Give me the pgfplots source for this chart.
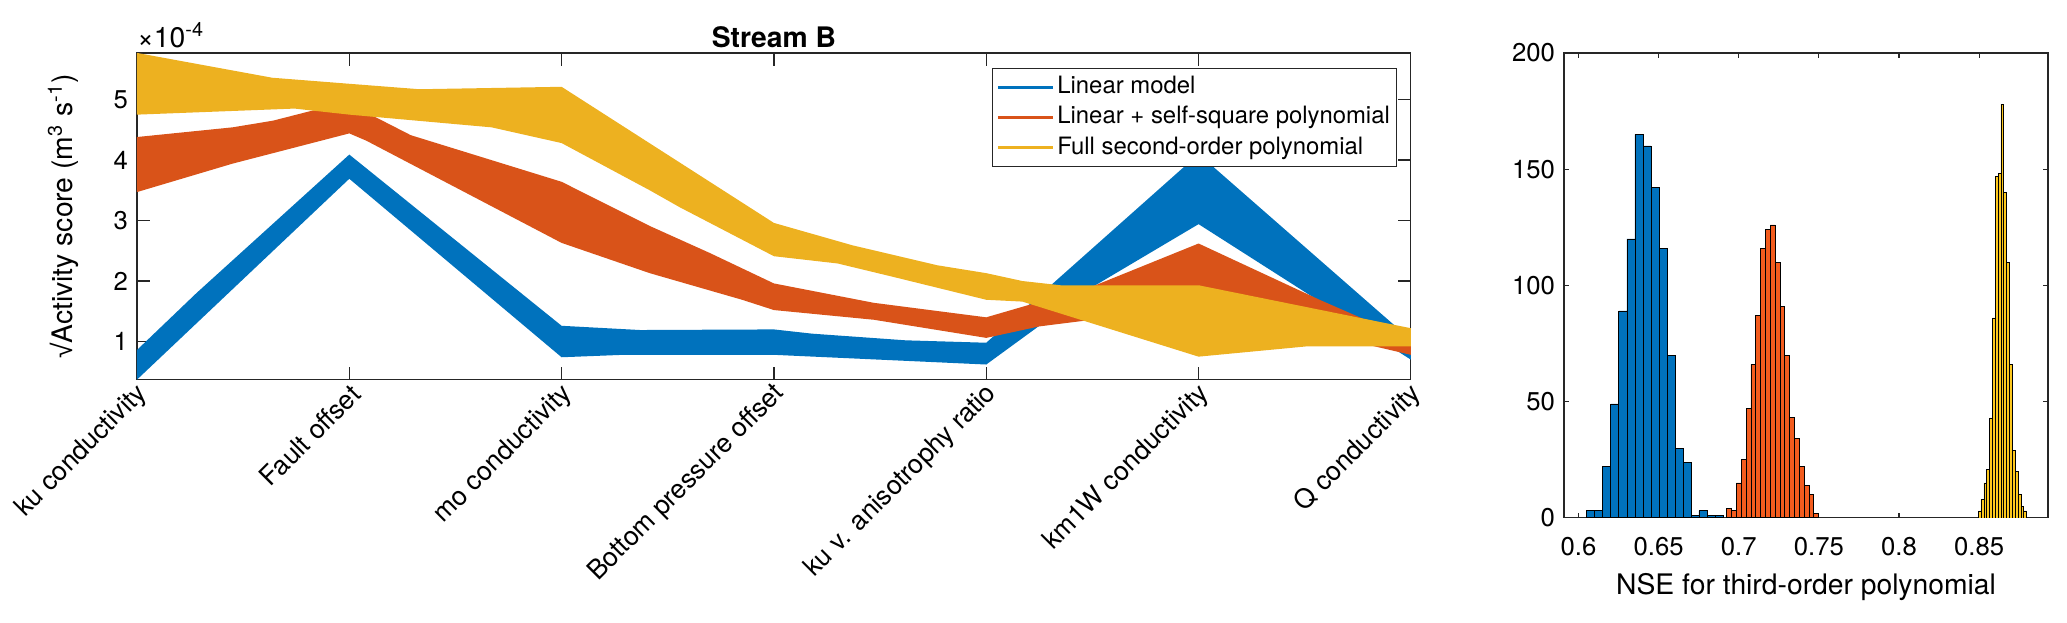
\documentclass[border=0pt]{standalone}
\usepackage{fontspec}
\setmainfont{TeX Gyre Heros}
\newfontfamily\libsans{Liberation Sans}
\usepackage{pgfplots}
\pgfplotsset{compat=1.18}
\definecolor{mblue}{RGB}{0,114,189}
\definecolor{morange}{RGB}{217,83,25}
\definecolor{myellow}{RGB}{237,177,32}
\definecolor{horange}{RGB}{243,92,30}
\definecolor{hyellow}{RGB}{253,200,30}
\definecolor{axgray}{RGB}{38,38,38}
\begin{document}
\begin{tikzpicture}
\useasboundingbox (0,0) rectangle (804.3pt,242.4pt);
\begin{axis}[
  at={(53.3pt,94.6pt)}, anchor=south west,
  scale only axis, width=495.7pt, height=127.2pt,
  xmin=0, xmax=6, ymin=0.367, ymax=5.77,
  xtick={0,1,2,3,4,5,6},
  xticklabels={ku conductivity, Fault offset, mo conductivity, Bottom pressure offset, ku v. anisotrophy ratio, km1W conductivity, Q conductivity},
  ytick={1,2,3,4,5},
  tick align=inside, tick pos=both,
  major tick length=4.9pt,
  axis line style={axgray, line width=0.45pt},
  every tick/.style={axgray, line width=0.45pt},
  tick label style={font=\fontsize{10}{12}\selectfont, text=black},
  xticklabel style={rotate=45, anchor=east, yshift=-4.5pt, xshift=2.5pt, font=\fontsize{10.3}{12}\selectfont},
  /pgf/number format/assume math mode=true,
  title={Stream B},
  every axis title/.style={font=\bfseries\fontsize{11}{13}\selectfont, at={(axis description cs:0.5,1)}, anchor=south, yshift=-1.5pt},
  ylabel={{\libsans √}Activity score (m\textsuperscript{3} s\textsuperscript{-1})},
  every axis y label/.style={font=\fontsize{11}{13}\selectfont, at={(axis description cs:-0.058,0.5)}, rotate=90, anchor=center},
  legend style={at={(axis description cs:0.989,0.955)}, anchor=north east,
    font=\fontsize{9.3}{11}\selectfont, draw=axgray, line width=0.45pt,
    inner xsep=1.5pt, inner ysep=2pt, row sep=0.7pt,
    nodes={inner sep=1pt, text height=7pt, text depth=2pt},
    cells={anchor=west}},
  legend image code/.code={\draw[#1, line width=1.3pt] (0pt,0pt) -- (21.5pt,0pt);},
  after end axis/.code={\node[anchor=south west, inner sep=0pt, font=\fontsize{11}{13}\selectfont] at (rel axis cs:0,1) [yshift=1.9pt] {×10\textsuperscript{-4}};},
]
% Linear model band
\addplot[fill=mblue, draw=none, forget plot] coordinates {
(0,0.86) (0.28,1.80) (1,4.09) (2,1.26) (2.37,1.19) (3,1.20) (3.18,1.13) (3.62,1.02) (4,0.98) (5,4.10) (6,1.03)
(6,0.70) (5,2.94) (4.5,1.90) (4,0.62) (3,0.78) (2.29,0.78) (2,0.74) (1,3.69) (0,0.37)};
% Linear + self-square band
\addplot[fill=morange, draw=none, forget plot] coordinates {
(0,4.38) (0.45,4.54) (0.64,4.65) (0.83,4.82) (1,4.93) (1.29,4.41) (2,3.64) (2.415,2.91) (2.70,2.46) (3,1.96) (3.47,1.64) (4,1.40) (4.5,1.91) (5,2.62) (5.57,1.69) (6,1.03)
(6,0.78) (5,1.60) (4.5,1.36) (4.25,1.25) (4,1.06) (3.47,1.36) (3,1.52) (2.85,1.69) (2.415,2.13) (2,2.63) (1.08,4.32) (1,4.44) (0.45,3.94) (0,3.47)};
% Full second-order band
\addplot[fill=myellow, draw=none, forget plot] coordinates {
(0,5.77) (0.637,5.36) (1,5.26) (1.33,5.17) (2,5.21) (3,2.96) (3.37,2.59) (3.77,2.26) (4,2.13) (4.17,2.00) (4.35,1.93) (5,1.93) (6,1.22)
(6,0.92) (5.51,0.92) (5,0.75) (4.17,1.66) (4,1.69) (3.56,2.07) (3.3,2.29) (3,2.41) (2.556,3.22) (2.415,3.50) (2,4.28) (1.67,4.54) (1,4.75) (0.742,4.85) (0,4.75)};
\addlegendimage{mblue}
\addlegendentry{Linear model}
\addlegendimage{morange}
\addlegendentry{Linear + self-square polynomial}
\addlegendimage{myellow}
\addlegendentry{Full second-order polynomial}
\end{axis}

\begin{axis}[
  at={(608.6pt,40.9pt)}, anchor=south west,
  scale only axis, width=188.3pt, height=180.9pt,
  xmin=0.591, xmax=0.893, ymin=0, ymax=200,
  xtick={0.6,0.65,0.7,0.75,0.8,0.85},
  xticklabels={0.6,0.65,0.7,0.75,0.8,0.85},
  ytick={0,50,100,150,200},
  tick align=inside, tick pos=both,
  major tick length=1.9pt,
  axis line style={axgray, line width=0.45pt},
  every tick/.style={axgray, line width=0.45pt},
  tick label style={font=\fontsize{10}{12}\selectfont, text=black},
  xticklabel style={yshift=-4pt},
  /pgf/number format/assume math mode=true,
  xlabel={NSE for third-order polynomial},
  every axis x label/.style={font=\fontsize{11}{13}\selectfont, at={(axis description cs:0.5,0)}, anchor=center, yshift=-26.8pt},
]
\addplot[ybar interval, fill=mblue, draw=black, line width=0.3pt] coordinates {
(0.6052,3) (0.6102,3) (0.6152,22) (0.6202,49) (0.6252,89) (0.6302,120) (0.6352,165) (0.6402,160) (0.6452,142) (0.6502,116) (0.6552,70) (0.6602,30) (0.6652,24) (0.6702,1) (0.6752,3) (0.6802,1) (0.6852,1) (0.6902,0)};
\addplot[ybar interval, fill=horange, draw=black, line width=0.3pt] coordinates {
(0.69250,4) (0.69552,3) (0.69854,15) (0.70156,25) (0.70458,47) (0.70760,66) (0.71062,87) (0.71364,116) (0.71666,124) (0.71968,126) (0.72270,110) (0.72572,91) (0.72874,70) (0.73176,43) (0.73478,34) (0.73780,22) (0.74082,14) (0.74384,10) (0.74686,2) (0.74988,0)};
\addplot[ybar interval, fill=hyellow, draw=black, line width=0.25pt] coordinates {
(0.84940,3) (0.85118,8) (0.85296,15) (0.85474,21) (0.85652,43) (0.85830,86) (0.86008,147) (0.86186,148) (0.86364,178) (0.86542,140) (0.86720,110) (0.86898,66) (0.87076,29) (0.87254,20) (0.87432,10) (0.87610,5) (0.87788,3) (0.87966,0)};
\end{axis}
\end{tikzpicture}
\end{document}
